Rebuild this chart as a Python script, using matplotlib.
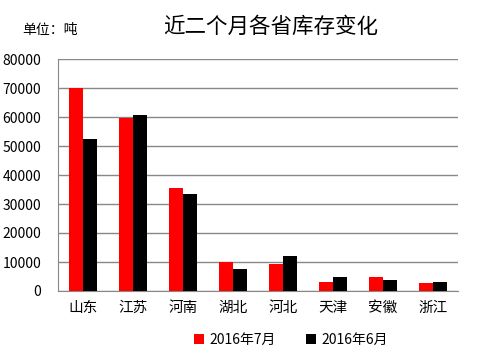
import matplotlib
matplotlib.use("Agg")
import matplotlib.pyplot as plt
import numpy as np

plt.rcParams['font.family'] = ['Noto Sans CJK SC', 'DejaVu Sans']

provinces = ["山东", "江苏", "河南", "湖北", "河北", "天津", "安徽", "浙江"]
july = [70000, 59800, 35500, 10000, 9400, 3200, 4900, 2900]
june = [52400, 60700, 33400, 7600, 12200, 4800, 3800, 3200]
series_names = ["2016年7月", "2016年6月"]

fig = plt.figure(figsize=(4.94, 3.64), dpi=100)
ax = fig.add_axes([58 / 494, 73 / 364, 400 / 494, 232 / 364])

x = np.arange(len(provinces))
w = 0.28
ax.bar(x - w / 2, july, w, color="#ff0000", label=series_names[0], zorder=3)
ax.bar(x + w / 2, june, w, color="#000000", label=series_names[1], zorder=3)

ax.set_xlim(-0.5, len(provinces) - 0.5)
ax.set_ylim(0, 80000)
ax.set_yticks(range(0, 80001, 10000))
ax.yaxis.grid(True, color="#888888", linewidth=1)
ax.set_axisbelow(True)
for s in ["top", "right"]:
    ax.spines[s].set_visible(False)
ax.spines["left"].set_color("#888888")
ax.spines["bottom"].set_color("#888888")
ax.set_xticks(x)
ax.set_xticklabels(provinces, fontsize=10.5)
ax.tick_params(axis="both", length=0)
ax.tick_params(axis="y", labelsize=10, pad=12)
ax.tick_params(axis="x", pad=7)

fig.text(271 / 494, 1 - 27 / 364, "近二个月各省库存变化", ha="center", va="center",
         fontsize=15.5, fontweight="medium")
fig.text(22 / 494, 1 - 30 / 364, "单位：吨", ha="left", va="center", fontsize=10)

ax.legend(loc="center", bbox_to_anchor=(291 / 494, 1 - 340 / 364),
          bbox_transform=fig.transFigure, ncol=2, frameon=False, fontsize=10,
          handlelength=0.7, handleheight=0.7, columnspacing=2.2, handletextpad=0.4)

fig.savefig("out.png", dpi=100)
